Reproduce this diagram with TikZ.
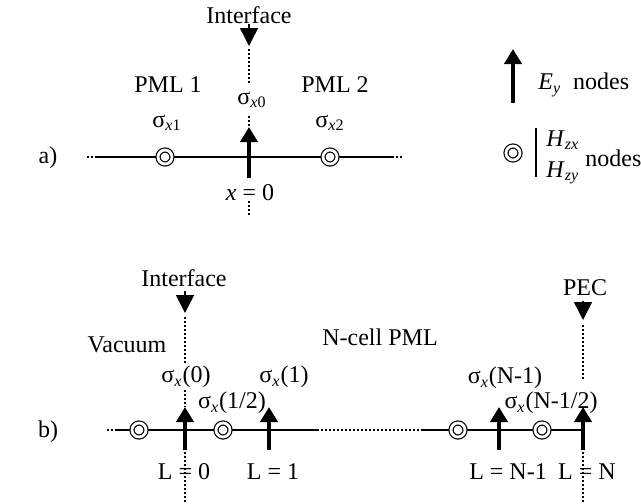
\documentclass[tikz,border=0pt]{standalone}
\usepackage{fontspec}
\setmainfont{Liberation Serif}
\usetikzlibrary{arrows.meta}
\newcommand{\sgx}[1]{σ\textsubscript{\textit{x}#1}}
\newcommand{\sgl}[1]{σ\textsubscript{\textit{x}}(#1)}

\begin{document}
\begin{tikzpicture}[x=0.5pt, y=-0.5pt,
  every node/.style={font=\fontsize{12}{14}\selectfont, inner sep=1pt},
  axis/.style={line width=0.75pt},
  dotline/.style={line width=0.9pt, dash pattern=on 1pt off 1pt},
  eyarrow/.style={-{Triangle[length=7.5pt,width=8.5pt]}, line width=2.2pt},
  ifarrow/.style={-{Triangle[length=9pt,width=9pt]}, line width=0.75pt},
  hnode/.style={circle, draw, double, double distance=1.4pt, line width=0.6pt,
    fill=white, minimum size=7pt, inner sep=0pt}]
  \useasboundingbox (0,0) rectangle (641,503);

  % a) interface between two PMLs
  \node (lbla) at (48,158) {a)};
  \node (ifa) at (249,15) {Interface};
  \coordinate (ifa top) at (249,24);
  \coordinate (ifa tip) at (249,46);
  \draw[ifarrow] (ifa top) -- (ifa tip);
  \draw[dotline] (249,49) -- (249,85);
  \node (sx0) at (252,100) {\sgx{0}};
  \draw[dotline] (249,116) -- (249,127);
  \coordinate (ey0 foot) at (249,178);
  \coordinate (ey0 tip) at (249,127);
  \draw[eyarrow] (ey0 foot) -- (ey0 tip);
  \draw[dotline] (87,157) -- (95,157);
  \draw[axis] (95,157) -- (392,157);
  \draw[dotline] (392,157) -- (404,157);
  \node[hnode] (h1) at (165,157) {};
  \node[hnode] (h2) at (330,157) {};
  \node (pml1) at (168,85) {PML 1};
  \node (pml2) at (335,85) {PML 2};
  \node (sx1) at (167,123) {\sgx{1}};
  \node (sx2) at (330,123) {\sgx{2}};
  \node (xz) at (250,193) {\textit{x} = 0};
  \draw[dotline] (249,201) -- (249,216);

  % legend
  \coordinate (leg foot) at (513,103);
  \coordinate (leg tip) at (513,49);
  \draw[eyarrow] (leg foot) -- (leg tip);
  \node[anchor=west] (eyn) at (536,85) {\textit{E}\textsubscript{\textit{y}}\ \ nodes};
  \node[hnode] (hleg) at (513,153) {};
  \draw[line width=0.6pt] (536,128) -- (536,177);
  \node[anchor=west] (hzx) at (544,140) {\textit{H}\textsubscript{\textit{zx}}};
  \node[anchor=west] (hzy) at (544,173) {\textit{H}\textsubscript{\textit{zy}}};
  \node[anchor=west] (hn) at (583,158) {nodes};

  % b) N-cell PML backed by PEC
  \node (lblb) at (48,432) {b)};
  \node (ifb) at (184,278) {Interface};
  \coordinate (ifb top) at (185,291);
  \coordinate (ifb tip) at (185,313);
  \draw[ifarrow] (ifb top) -- (ifb tip);
  \draw[dotline] (185,317) -- (185,363);
  \node (vac) at (127,345) {Vacuum};
  \node (ncell) at (380,337) {N-cell PML};
  \node (pec) at (585,288) {PEC};
  \coordinate (pec top) at (583,301);
  \coordinate (pec tip) at (583,320);
  \draw[ifarrow] (pec top) -- (pec tip);
  \draw[dotline] (583,325) -- (583,380);

  \draw[dotline] (107,430) -- (117,430);
  \draw[axis] (117,430) -- (317,430);
  \draw[dotline] (317,430) -- (423,430);
  \draw[axis] (423,430) -- (583,430);
  \node[hnode] (hb1) at (139,430) {};
  \node[hnode] (hb2) at (223,430) {};
  \node[hnode] (hb3) at (458,430) {};
  \node[hnode] (hb4) at (542,430) {};

  \draw[dotline] (185,390) -- (185,407);
  \coordinate (e0 foot) at (185,450);
  \coordinate (e0 tip) at (185,407);
  \draw[eyarrow] (e0 foot) -- (e0 tip);
  \coordinate (e1 foot) at (269,450);
  \coordinate (e1 tip) at (269,407);
  \draw[eyarrow] (e1 foot) -- (e1 tip);
  \coordinate (en1 foot) at (499,450);
  \coordinate (en1 tip) at (499,407);
  \draw[eyarrow] (en1 foot) -- (en1 tip);
  \coordinate (en foot) at (583,450);
  \coordinate (en tip) at (583,407);
  \draw[eyarrow] (en foot) -- (en tip);

  \node (s0) at (186,377) {\sgl{0}};
  \node (shalf) at (232,403) {\sgl{1/2}};
  \node (s1) at (284,377) {\sgl{1}};
  \node (sn1) at (505,378) {\sgl{N-1}};
  \node (snhalf) at (551,403) {\sgl{N-1/2}};

  \draw[dotline] (185,452) -- (185,503);
  \draw[dotline] (583,452) -- (583,503);
  \node (l0) at (184,472) {L = 0};
  \node (l1) at (273,472) {L = 1};
  \node (ln1) at (508,472) {L = N-1};
  \node (ln) at (587,472) {L = N};
\end{tikzpicture}
\end{document}
